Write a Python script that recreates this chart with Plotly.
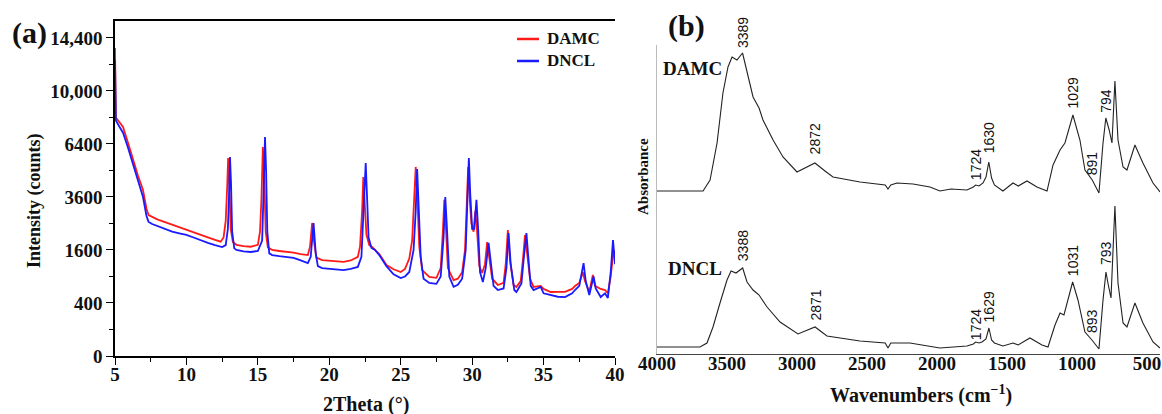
import numpy as np
import plotly.graph_objects as go

# ---------------- (a) XRD patterns ----------------
two_theta_damc = [5.00, 5.03, 5.06, 5.3, 5.56, 5.9, 6.26, 6.6, 6.96, 7.2, 7.35, 7.6, 8.0, 8.5, 9.0,
                  9.5, 10.0, 10.5, 11.0, 11.5, 12.0, 12.4, 12.6, 12.75, 12.85, 12.92, 13.0, 13.1,
                  13.25, 13.5, 14.0, 14.5, 15.0, 15.15, 15.25, 15.35, 15.45, 15.55, 15.7, 16.0,
                  16.5, 17.0, 17.5, 18.0, 18.5, 18.65, 18.8, 18.95, 19.1, 19.5, 20.0, 20.5, 21.0,
                  21.5, 22.0, 22.15, 22.3, 22.38, 22.48, 22.6, 22.8, 23.0, 23.3, 23.5, 23.8, 24.0,
                  24.5, 25.0, 25.3, 25.6, 25.8, 25.95, 26.05, 26.15, 26.3, 26.5, 27.0, 27.5, 27.8,
                  27.95, 28.05, 28.15, 28.3, 28.7, 29.0, 29.3, 29.5, 29.62, 29.72, 29.82, 29.95,
                  30.1, 30.22, 30.35, 30.5, 30.7, 30.9, 31.05, 31.2, 31.4, 31.8, 32.2, 32.35, 32.5,
                  32.65, 32.9, 33.1, 33.4, 33.55, 33.7, 33.85, 34.05, 34.3, 34.8, 35.0, 35.5, 36.0,
                  36.5, 37.0, 37.2, 37.5, 37.75, 37.9, 38.2, 38.45, 38.6, 39.0, 39.3, 39.5, 39.7,
                  39.85, 39.95, 40.0]
counts_damc = [13500, 9500, 8100, 7800, 7470, 6500, 5470, 4650, 3920, 3100, 2830, 2750, 2650, 2550,
               2450, 2350, 2260, 2180, 2080, 2000, 1920, 1860, 2000, 2600, 4000, 5580, 4200, 2300,
               1850, 1760, 1720, 1700, 1760, 2200, 3500, 6220, 4500, 2200, 1680, 1600, 1570, 1550,
               1520, 1480, 1450, 1700, 2520, 1800, 1380, 1310, 1290, 1270, 1260, 1300, 1400, 1700,
               3000, 4560, 3200, 2100, 1750, 1690, 1560, 1480, 1300, 1180, 1070, 1005, 1080, 1350,
               1900, 3500, 5090, 3800, 1700, 1050, 890, 870, 1100, 2200, 3470, 2500, 1100, 820, 850,
               1000, 1600, 3200, 5090, 3600, 2500, 2200, 3000, 2200, 1150, 980, 1200, 1850, 1400,
               850, 718, 760, 1200, 2260, 1300, 720, 680, 800, 1300, 2085, 1500, 850, 680, 700, 640,
               583, 585, 585, 640, 697, 760, 1000, 800, 583, 934, 700, 640, 620, 560, 900, 1400,
               1600, 1300]

two_theta_dncl = [5.00, 5.03, 5.06, 5.3, 5.56, 5.9, 6.26, 6.6, 6.96, 7.2, 7.35, 7.6, 8.0, 8.5, 9.0,
                  9.5, 10.0, 10.5, 11.0, 11.5, 12.0, 12.5, 12.75, 12.9, 13.0, 13.05, 13.12, 13.2,
                  13.35, 13.5, 14.0, 14.5, 15.0, 15.3, 15.4, 15.5, 15.58, 15.66, 15.8, 16.0, 16.5,
                  17.0, 17.5, 18.0, 18.5, 18.7, 18.9, 19.05, 19.2, 19.5, 20.0, 20.5, 21.0, 21.5,
                  22.0, 22.25, 22.4, 22.55, 22.65, 22.75, 22.95, 23.2, 23.5, 23.8, 24.0, 24.5, 25.0,
                  25.3, 25.6, 25.9, 26.05, 26.15, 26.25, 26.4, 26.6, 27.0, 27.5, 27.8, 28.0, 28.12,
                  28.22, 28.4, 28.7, 29.0, 29.3, 29.55, 29.67, 29.77, 29.87, 30.0, 30.15, 30.3,
                  30.42, 30.55, 30.75, 30.95, 31.15, 31.3, 31.5, 31.8, 32.2, 32.4, 32.55, 32.7,
                  32.95, 33.1, 33.45, 33.6, 33.8, 33.95, 34.1, 34.3, 34.8, 35.0, 35.5, 36.0, 36.5,
                  37.0, 37.2, 37.5, 37.65, 37.8, 37.95, 38.2, 38.5, 38.65, 39.0, 39.3, 39.5, 39.7,
                  39.86, 39.95, 40.0]
counts_dncl = [12500, 9000, 7900, 7500, 7100, 6200, 5190, 4350, 3600, 2800, 2560, 2480, 2400, 2300,
               2200, 2140, 2086, 2000, 1900, 1820, 1750, 1690, 1750, 2300, 4000, 5640, 4300, 2200,
               1650, 1600, 1560, 1540, 1570, 1900, 3800, 6830, 4800, 2200, 1500, 1450, 1420, 1400,
               1370, 1300, 1230, 1400, 2520, 1500, 1150, 1100, 1080, 1060, 1050, 1080, 1130, 1400,
               3000, 5300, 3500, 2000, 1660, 1600, 1450, 1250, 1150, 950, 865, 900, 1005, 1600,
               3000, 4980, 3500, 1400, 850, 760, 740, 900, 2000, 3600, 2500, 900, 680, 720, 850,
               1600, 3500, 5580, 3700, 2300, 2300, 3470, 2300, 1000, 780, 1100, 1820, 1200, 700,
               620, 650, 1100, 2150, 1200, 620, 583, 750, 1300, 2150, 1300, 700, 620, 680, 560, 530,
               500, 495, 560, 620, 700, 950, 1230, 800, 530, 900, 650, 495, 560, 480, 1000, 1915,
               1500, 1200]

intensity_ticks = [0, 400, 1600, 3600, 6400, 10000, 14400]
intensity_labels = ["0", "400", "1600", "3600", "6400", "10,000", "14,400"]

# ---------------- (b) FTIR spectra ----------------
wn_damc = [4000, 3671, 3621, 3571, 3529, 3493, 3464, 3429, 3389, 3357, 3314, 3271, 3243, 3171,
           3100, 3000, 2872, 2800, 2743, 2550, 2450, 2370, 2350, 2330, 2286, 2171, 2050, 1979,
           1900, 1786, 1740, 1724, 1700, 1671, 1650, 1630, 1610, 1590, 1529, 1457, 1420, 1357,
           1286, 1214, 1171, 1121, 1086, 1029, 979, 943, 891, 843, 814, 794, 770, 750, 729, 707,
           671, 643, 586, 529, 457, 407]
abs_damc = [1.63, 1.63, 1.74, 2.11, 2.61, 2.87, 2.97, 2.94, 3.01, 2.81, 2.57, 2.46, 2.34, 2.14,
            1.97, 1.82, 1.91, 1.83, 1.77, 1.72, 1.70, 1.69, 1.65, 1.69, 1.71, 1.70, 1.67, 1.63,
            1.65, 1.64, 1.67, 1.69, 1.68, 1.71, 1.77, 1.92, 1.76, 1.69, 1.63, 1.71, 1.68, 1.73,
            1.67, 1.63, 1.89, 2.04, 2.11, 2.39, 2.14, 1.84, 1.74, 1.61, 2.11, 2.36, 2.24, 2.11,
            2.73, 2.14, 1.87, 1.84, 2.09, 1.91, 1.71, 1.62]

wn_dncl = [4000, 3693, 3643, 3600, 3550, 3500, 3471, 3436, 3388, 3357, 3314, 3271, 3214, 3121,
           2993, 2871, 2786, 2550, 2370, 2350, 2330, 2193, 1979, 1786, 1740, 1724, 1700, 1679,
           1650, 1629, 1610, 1590, 1529, 1457, 1420, 1336, 1250, 1207, 1157, 1121, 1093, 1031,
           993, 943, 893, 843, 814, 793, 779, 757, 729, 707, 671, 643, 586, 529, 457, 407]
abs_dncl = [0.07, 0.07, 0.11, 0.27, 0.51, 0.74, 0.83, 0.81, 0.86, 0.72, 0.64, 0.59, 0.47, 0.32,
            0.20, 0.27, 0.18, 0.13, 0.11, 0.06, 0.11, 0.11, 0.06, 0.08, 0.10, 0.12, 0.11, 0.12,
            0.15, 0.26, 0.14, 0.11, 0.08, 0.11, 0.09, 0.16, 0.09, 0.07, 0.29, 0.41, 0.39, 0.72,
            0.54, 0.22, 0.14, 0.05, 0.54, 0.82, 0.71, 0.56, 1.48, 0.71, 0.31, 0.27, 0.51, 0.31,
            0.12, 0.06]

# band labels: (wavenumber, height of label foot)
bands_damc = [(3389, 3.04), (2872, 1.98), (1724, 1.72), (1630, 1.99), (1029, 2.44), (891, 1.77), (794, 2.39)]
bands_dncl = [(3388, 0.91), (2871, 0.31), (1724, 0.12), (1629, 0.30), (1031, 0.76), (893, 0.19), (793, 0.87)]

SERIF = "Liberation Serif"
SANS = "Liberation Sans"
W, H = 1162, 414

def px_x(p):
    return p / W

def px_y(p):
    return 1 - p / H

fig = go.Figure()

fig.add_trace(go.Scatter(x=two_theta_damc, y=np.sqrt(counts_damc), mode="lines", name="DAMC",
                         line=dict(color="#ff1a1a", width=1.8), xaxis="x", yaxis="y", showlegend=False))
fig.add_trace(go.Scatter(x=two_theta_dncl, y=np.sqrt(counts_dncl), mode="lines", name="DNCL",
                         line=dict(color="#1a1aff", width=1.8), xaxis="x", yaxis="y", showlegend=False))

fig.add_trace(go.Scatter(x=wn_damc, y=abs_damc, mode="lines", name="DAMC",
                         line=dict(color="#222222", width=1.1), xaxis="x2", yaxis="y2", showlegend=False))
fig.add_trace(go.Scatter(x=wn_dncl, y=abs_dncl, mode="lines", name="DNCL",
                         line=dict(color="#222222", width=1.1), xaxis="x2", yaxis="y2", showlegend=False))

tick_font = dict(family=SERIF, size=19, color="#111111", weight="bold")
minor_sqrt = [10, 30, 50, 70, 90, 110]

fig.update_layout(
    width=W, height=H,
    margin=dict(l=0, r=0, t=0, b=0, autoexpand=False),
    paper_bgcolor="white", plot_bgcolor="white",
    xaxis=dict(domain=[px_x(115), px_x(615)], range=[5, 40], dtick=5, tick0=5,
               showline=True, linecolor="black", linewidth=1.5, mirror=True,
               ticks="outside", ticklen=7, tickwidth=1.2, tickcolor="black",
               minor=dict(dtick=2.5, ticks="outside", ticklen=4, tickcolor="black"),
               ticklabelstandoff=-7,
               showgrid=False, zeroline=False, tickfont=tick_font, anchor="y", automargin=False),
    yaxis=dict(domain=[px_y(356), px_y(21)], range=[0, 126.4],
               tickmode="array", tickvals=list(np.sqrt(intensity_ticks)), ticktext=intensity_labels,
               showline=True, linecolor="black", linewidth=1.5,
               ticks="outside", ticklen=7, tickwidth=1.2, tickcolor="black",
               minor=dict(tickvals=minor_sqrt, ticks="outside", ticklen=4, tickcolor="black"),
               showgrid=False, zeroline=False, tickfont=tick_font, anchor="x", automargin=False),
    xaxis2=dict(domain=[px_x(657), px_x(1160)], range=[4000, 407],
                tickmode="array", tickvals=[4000, 3500, 3000, 2500, 2000, 1500, 1000, 500],
                showline=True, linecolor="#444444", linewidth=1.2, ticks="",
                ticklabelstandoff=-8,
                showgrid=False, zeroline=False, tickfont=tick_font, anchor="y2", automargin=False),
    yaxis2=dict(domain=[px_y(354), px_y(45)], range=[0, 3.09],
                showline=True, linecolor="#bbbbbb", linewidth=1, showticklabels=False, ticks="",
                showgrid=False, zeroline=False, anchor="x2", automargin=False),
)

ann = []

def text(x, y, s, size, family=SERIF, angle=0, xa="center", ya="middle"):
    ann.append(dict(x=px_x(x), y=px_y(y), xref="paper", yref="paper", text=s,
                    showarrow=False, textangle=angle, xanchor=xa, yanchor=ya,
                    font=dict(family=family, size=size, color="#111111", weight="bold")))

# panel tags and axis titles
text(29, 33, "(a)", 30)
text(687, 26, "(b)", 30)
text(35, 201, "Intensity (counts)", 18, angle=-90)
text(366, 404, "2Theta (°)", 20)
text(643, 177, "Absorbance", 15, angle=-90)
text(921, 394, "Wavenumbers (cm<sup>−1</sup>)", 20)
text(692, 68, "DAMC", 19)
text(695, 268, "DNCL", 19)

# legend for panel (a)
legend_items = [("DAMC", "#ff1a1a", 39), ("DNCL", "#1a1aff", 61)]
shapes = []
for name, color, yy in legend_items:
    shapes.append(dict(type="line", xref="paper", yref="paper", x0=px_x(517), x1=px_x(539),
                       y0=px_y(yy), y1=px_y(yy), line=dict(color=color, width=2.5)))
    text(545, yy, name, 17, xa="left")

# band labels on the FTIR spectra
for wn, yv in bands_damc + bands_dncl:
    ann.append(dict(x=wn, y=yv, xref="x2", yref="y2", text=str(wn), showarrow=False,
                    textangle=-90, xanchor="center", yanchor="bottom",
                    font=dict(family=SANS, size=14, color="#111111")))

fig.update_layout(annotations=ann, shapes=shapes)
fig.write_html("out.html")
